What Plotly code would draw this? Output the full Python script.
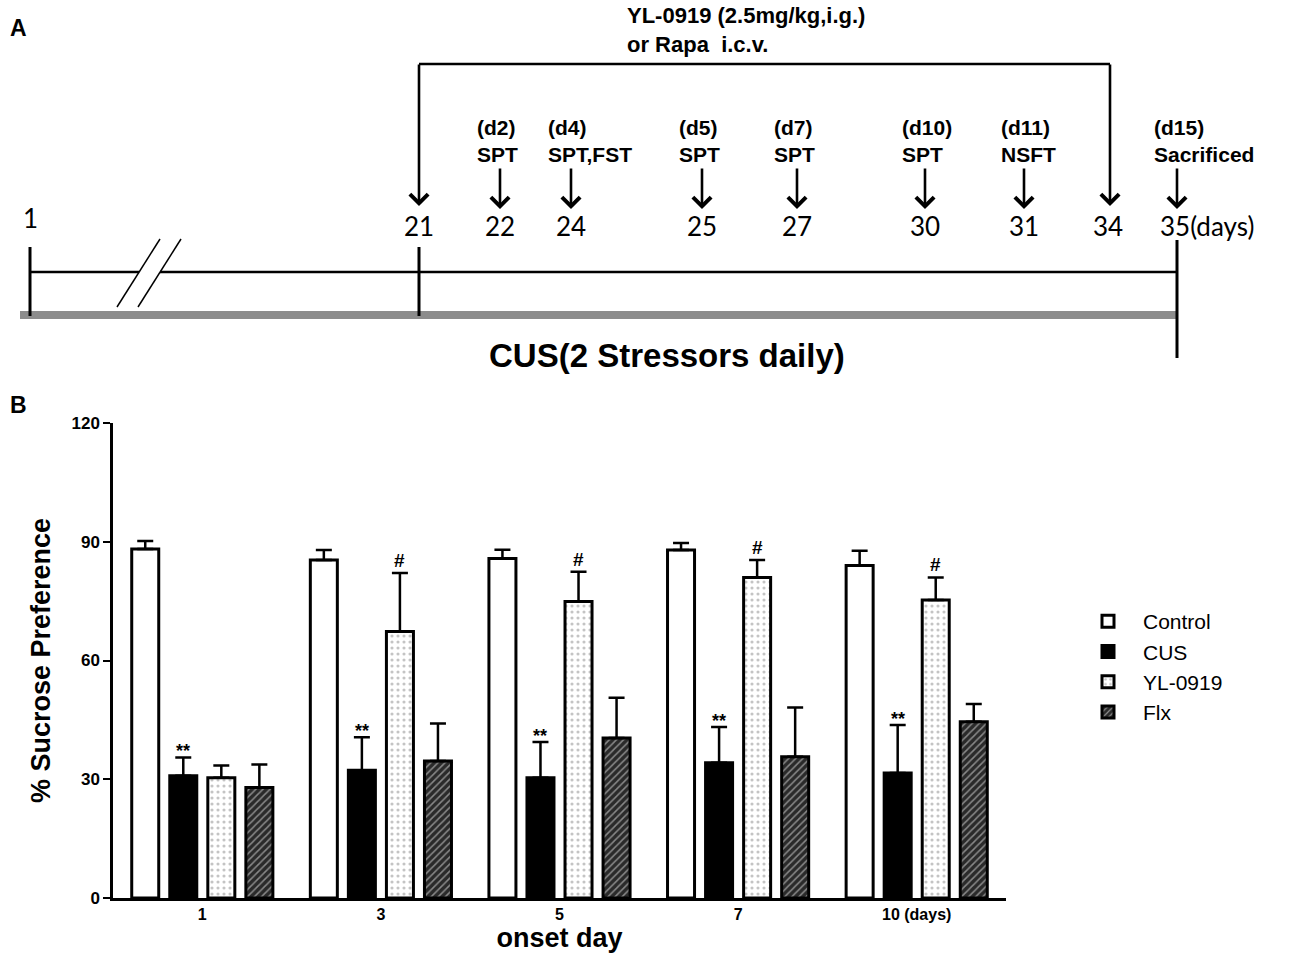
import plotly.graph_objects as go

# ---------------- Panel B data ----------------
onset_days = ["1", "3", "5", "7", "10 (days)"]
control_mean = [88.2, 85.4, 85.8, 87.9, 84.0]
control_sem = [2.0, 2.5, 2.2, 1.8, 3.7]
cus_mean = [30.9, 32.3, 30.4, 34.2, 31.6]
cus_sem = [4.6, 8.3, 9.0, 9.0, 12.1]
yl_mean = [30.4, 67.3, 74.9, 81.0, 75.3]
yl_sem = [3.1, 14.8, 7.5, 4.4, 5.7]
flx_mean = [27.9, 34.6, 40.4, 35.7, 44.5]
flx_sem = [5.8, 9.5, 10.2, 12.4, 4.5]
cus_marks = ["**", "**", "**", "**", "**"]
yl_marks = ["", "#", "#", "#", "#"]
y_ticks = [0, 30, 60, 90, 120]

# ---------------- Panel A data (schematic timeline) ----------------
timeline_labels = ["1", "21", "22", "24", "25", "27", "30", "31", "34", "35(days)"]
timeline_days = [1, 21, 22, 24, 25, 27, 30, 31, 34, 35]
timeline_x = [30, 419, 500, 571, 702, 797, 925, 1024, 1108, 1177]
event_days = [22, 24, 25, 27, 30, 31, 35]
event_codes = ["(d2)", "(d4)", "(d5)", "(d7)", "(d10)", "(d11)", "(d15)"]
event_tests = ["SPT", "SPT,FST", "SPT", "SPT", "SPT", "NSFT", "Sacrificed"]
treatment_days = [21, 34]
treatment_text = "YL-0919 (2.5mg/kg,i.g.)<br>or Rapa&nbsp; i.c.v."
stress_text = "CUS(2 Stressors daily)"

W, H = 1300, 967
BOLD = "Liberation Sans"
day_pos = dict(zip(timeline_days, timeline_x))

fig = go.Figure()

# ---------------- Panel B bars ----------------
bargap = 0.148
bargroupgap = 0.29
slot = (1 - bargap) / 4
line = dict(color="black", width=3)
series = [
    ("Control", control_mean, control_sem, dict(color="white", line=line)),
    ("CUS", cus_mean, cus_sem, dict(color="black", line=line)),
    ("YL-0919", yl_mean, yl_sem,
     dict(color="white", line=line,
          pattern=dict(shape=".", fgcolor="#8a8a8a", bgcolor="white", size=6, solidity=0.22))),
    ("Flx", flx_mean, flx_sem,
     dict(color="#2a2a2a", line=line,
          pattern=dict(shape="/", fgcolor="#e8e8e8", bgcolor="#2a2a2a", size=5, solidity=0.3))),
]
for name, mean, sem, marker in series:
    fig.add_trace(go.Bar(
        x=onset_days, y=mean, name=name, marker=marker,
        error_y=dict(type="data", array=sem, arrayminus=[0] * len(sem), symmetric=False,
                     color="black", thickness=2.5, width=8),
        xaxis="x", yaxis="y",
    ))

annotations = []
for i in range(len(onset_days)):
    if cus_marks[i]:
        annotations.append(dict(
            x=i + (1 - 1.5) * slot, y=cus_mean[i] + cus_sem[i], xref="x", yref="y",
            text=cus_marks[i], showarrow=False, yanchor="bottom", yshift=-6,
            font=dict(family=BOLD, size=18, color="black", weight="bold")))
    if yl_marks[i]:
        annotations.append(dict(
            x=i + (2 - 1.5) * slot, y=yl_mean[i] + yl_sem[i], xref="x", yref="y",
            text=yl_marks[i], showarrow=False, yanchor="bottom", yshift=0,
            font=dict(family=BOLD, size=19, color="black", weight="bold")))

# ---------------- Panel A timeline ----------------
shapes = []
ref = dict(xref="x2", yref="y2")
x_first, x_21, x_last = day_pos[1], day_pos[21], day_pos[35]
shapes.append(dict(type="line", x0=20, x1=x_last, y0=315, y1=315,
                   line=dict(color="#8c8c8c", width=8), **ref))
shapes.append(dict(type="line", x0=x_first, x1=139, y0=272, y1=272,
                   line=dict(color="black", width=2.5), **ref))
shapes.append(dict(type="line", x0=160, x1=x_last, y0=272, y1=272,
                   line=dict(color="black", width=2.5), **ref))
for sx in (117, 138):
    shapes.append(dict(type="line", x0=sx, x1=sx + 43, y0=307, y1=239,
                       line=dict(color="black", width=1.5), **ref))
for tx, y0, y1 in ((x_first, 247, 316), (x_21, 247, 316), (x_last, 240, 358)):
    shapes.append(dict(type="line", x0=tx, x1=tx, y0=y0, y1=y1,
                       line=dict(color="black", width=3), **ref))
t0, t1 = day_pos[treatment_days[0]], day_pos[treatment_days[1]] + 2
shapes.append(dict(type="line", x0=t0, x1=t1, y0=64, y1=64,
                   line=dict(color="black", width=2.5), **ref))

arrow_common = dict(xref="x2", yref="y2", axref="x2", ayref="y2", showarrow=True,
                    text="", arrowhead=4, arrowsize=1.35, arrowwidth=2.6,
                    arrowcolor="black", standoff=0, startstandoff=0)
for tx in (t0, t1):
    annotations.append(dict(x=tx, y=206, ax=tx, ay=63, **arrow_common))

for d, code, test in zip(event_days, event_codes, event_tests):
    px = day_pos[d]
    annotations.append(dict(x=px, y=209, ax=px, ay=167, **arrow_common))
    annotations.append(dict(
        x=px, y=141, xref="x2", yref="y2", xanchor="left", xshift=-25, yanchor="middle",
        align="left", showarrow=False, text=code + "<br>" + test,
        font=dict(family=BOLD, size=21, color="black", weight="bold")))

for lab, d in zip(timeline_labels, timeline_days):
    px = day_pos[d]
    if lab.startswith("35"):
        annotations.append(dict(x=px, y=226, xref="x2", yref="y2", xanchor="left",
                                xshift=-19, showarrow=False, text=lab,
                                font=dict(family="Lato", size=26, color="black")))
    else:
        annotations.append(dict(x=px, y=218 if d == 1 else 226, xref="x2", yref="y2",
                                showarrow=False, text=lab,
                                font=dict(family="Lato", size=26, color="black")))

annotations.append(dict(x=625, y=30, xref="x2", yref="y2", xanchor="left", yanchor="middle",
                        align="left", showarrow=False, text=treatment_text,
                        font=dict(family=BOLD, size=22, color="black", weight="bold")))
annotations.append(dict(x=667, y=355, xref="x2", yref="y2", showarrow=False, text=stress_text,
                        font=dict(family=BOLD, size=33, color="black", weight="bold")))

annotations.append(dict(x=8 / W, y=1 - 28 / H, xref="paper", yref="paper", xanchor="left",
                        yanchor="middle", showarrow=False, text="A",
                        font=dict(family=BOLD, size=23, color="black", weight="bold")))
annotations.append(dict(x=8 / W, y=1 - 405 / H, xref="paper", yref="paper", xanchor="left",
                        yanchor="middle", showarrow=False, text="B",
                        font=dict(family=BOLD, size=23, color="black", weight="bold")))

fig.update_layout(
    width=W, height=H,
    margin=dict(l=0, r=0, t=0, b=0, autoexpand=False),
    paper_bgcolor="white", plot_bgcolor="white",
    barmode="group", bargap=bargap, bargroupgap=bargroupgap,
    showlegend=True,
    legend=dict(x=1073 / W, y=1 - 601 / H, xanchor="left", yanchor="top",
                font=dict(family=BOLD, size=21, color="black"),
                bgcolor="rgba(0,0,0,0)", tracegroupgap=0, itemwidth=60),
    xaxis=dict(domain=[113 / W, 1006 / W], type="category", range=[-0.5, 4.5],
               automargin=False,
               showline=True, linecolor="black", linewidth=2.5, ticks="",
               showgrid=False, zeroline=False,
               tickfont=dict(family=BOLD, size=16, color="black", weight="bold"),
               title=dict(text="onset day", standoff=2,
                          font=dict(family=BOLD, size=27, color="black", weight="bold"))),
    yaxis=dict(domain=[1 - 898 / H, 1 - 423 / H], range=[0, 120], tickvals=y_ticks,
               automargin=False,
               showline=True, linecolor="black", linewidth=2.5, ticks="outside",
               ticklen=7, tickwidth=2, tickcolor="black", showgrid=False, zeroline=False,
               tickfont=dict(family=BOLD, size=17, color="black", weight="bold"),
               title=dict(text="% Sucrose Preference", standoff=14,
                          font=dict(family=BOLD, size=27, color="black", weight="bold"))),
    xaxis2=dict(domain=[0, 1], range=[0, W], visible=False, anchor="y2", automargin=False),
    yaxis2=dict(domain=[1 - 380 / H, 1], range=[380, 0], visible=False, anchor="x2",
                automargin=False),
    shapes=shapes,
    annotations=annotations,
)

fig.write_html("out.html",
               config={"displayModeBar": False},
               post_script="document.body.style.margin='0px';"
                           "document.body.style.overflow='hidden';")
